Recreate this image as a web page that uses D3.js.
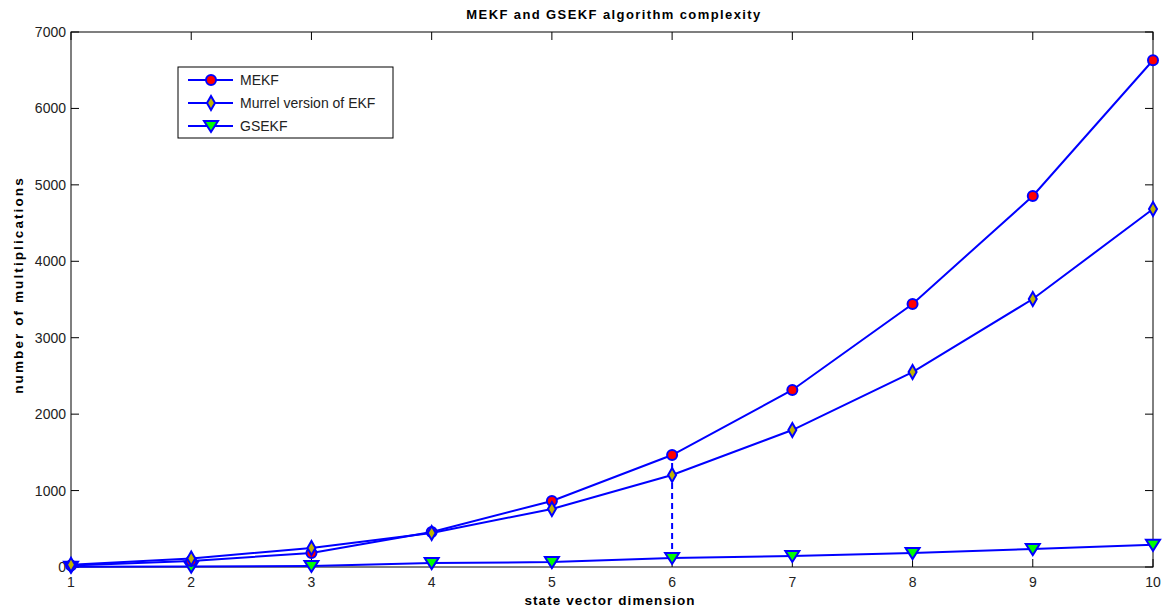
<!DOCTYPE html>
<html><head><meta charset="utf-8">
<script src="https://cdn.jsdelivr.net/npm/d3@7"></script>
<style>body{margin:0;background:#fff}svg{display:block;font-family:"Liberation Sans",Arial,sans-serif}</style>
</head><body><svg id="c" width="1169" height="610"></svg>
<script>
const dims = [1,2,3,4,5,6,7,8,9,10];
const mekf = [20,80,183,458,864,1465,2316,3441,4854,6630];
const murrel = [30,110,249,445,759,1204,1792,2551,3506,4684];
const gsekf = [2,5,13,52,65,118,144,183,235,290];
const xTicks = [1,2,3,4,5,6,7,8,9,10];
const yTicks = [0,1000,2000,3000,4000,5000,6000,7000];
const seriesNames = ["MEKF","Murrel version of EKF","GSEKF"];

const svg = d3.select("#c");
const L=71,R=1153,T=32,B=567;
const x = d3.scaleLinear().domain([1,10]).range([L,R]);
const y = d3.scaleLinear().domain([0,7000]).range([B,T]);

svg.append("rect").attr("x",L).attr("y",T).attr("width",R-L).attr("height",B-T).attr("fill","none").attr("stroke","#000").attr("stroke-width",1);
const tl=8;
const g=svg.append("g").attr("stroke","#000").attr("stroke-width",1);
xTicks.forEach(t=>{g.append("line").attr("x1",x(t)).attr("x2",x(t)).attr("y1",B).attr("y2",B-tl);
 g.append("line").attr("x1",x(t)).attr("x2",x(t)).attr("y1",T).attr("y2",T+tl);});
yTicks.forEach(t=>{g.append("line").attr("x1",L).attr("x2",L+tl).attr("y1",y(t)).attr("y2",y(t));
 g.append("line").attr("x1",R).attr("x2",R-tl).attr("y1",y(t)).attr("y2",y(t));});
svg.append("g").selectAll("text").data(xTicks).join("text").attr("x",d=>x(d)).attr("y",B+20).attr("text-anchor","middle").attr("font-size",14).attr("fill","#222").text(d=>d);
svg.append("g").selectAll("text").data(yTicks).join("text").attr("x",L-5).attr("y",d=>y(d)+5).attr("text-anchor","end").attr("font-size",14).attr("fill","#222").text(d=>d);

svg.append("text").attr("x",(L+R)/2+2).attr("y",19).attr("text-anchor","middle").attr("font-size",13).attr("font-weight","bold").attr("letter-spacing",1.4).text("MEKF and GSEKF algorithm complexity");
svg.append("text").attr("x",(L+R)/2-2).attr("y",605).attr("text-anchor","middle").attr("font-size",13.5).attr("font-weight","bold").attr("letter-spacing",1.1).text("state vector dimension");
svg.append("text").attr("transform",`translate(23,285) rotate(-90)`).attr("text-anchor","middle").attr("font-size",13.5).attr("font-weight","bold").attr("letter-spacing",2.1).text("number of multiplications");

svg.append("line").attr("x1",x(6)).attr("x2",x(6)).attr("y1",y(mekf[5])+8).attr("y2",y(gsekf[5])).attr("stroke","#0000ff").attr("stroke-width",2).attr("stroke-dasharray","6,4");

const line=d3.line().x((d,i)=>x(dims[i])).y(d=>y(d));
const sets=[mekf,murrel,gsekf];
sets.forEach(s=>svg.append("path").attr("d",line(s)).attr("fill","none").attr("stroke","#0000ff").attr("stroke-width",2));

function marker(sel,type,cx,cy){
  if(type===0) sel.append("circle").attr("cx",cx).attr("cy",cy).attr("r",5).attr("fill","#ff0000").attr("stroke","#0000ff").attr("stroke-width",2);
  if(type===1) sel.append("path").attr("d",`M${cx},${cy-7}L${cx+4},${cy}L${cx},${cy+7}L${cx-4},${cy}Z`).attr("fill","#bfb400").attr("stroke","#0000ff").attr("stroke-width",2);
  if(type===2) sel.append("path").attr("d",`M${cx-7},${cy-5}L${cx+7},${cy-5}L${cx},${cy+6}Z`).attr("fill","#00ff00").attr("stroke","#0000ff").attr("stroke-width",2);
}
const mg=svg.append("g");
[gsekf,mekf,murrel].forEach((s)=>{const t=sets.indexOf(s); s.forEach((v,i)=>marker(mg,t,x(dims[i]),y(v)));});

const lg=svg.append("g");
lg.append("rect").attr("x",178).attr("y",67).attr("width",215).attr("height",71).attr("fill","#fff").attr("stroke","#000").attr("stroke-width",1);
seriesNames.forEach((n,i)=>{const yy=80+i*23;
 lg.append("line").attr("x1",188).attr("x2",233).attr("y1",yy).attr("y2",yy).attr("stroke","#0000ff").attr("stroke-width",2);
 marker(lg,i,211,yy);
 lg.append("text").attr("x",240).attr("y",yy+5).attr("font-size",14).attr("fill","#222").text(n);
});
</script></body></html>
